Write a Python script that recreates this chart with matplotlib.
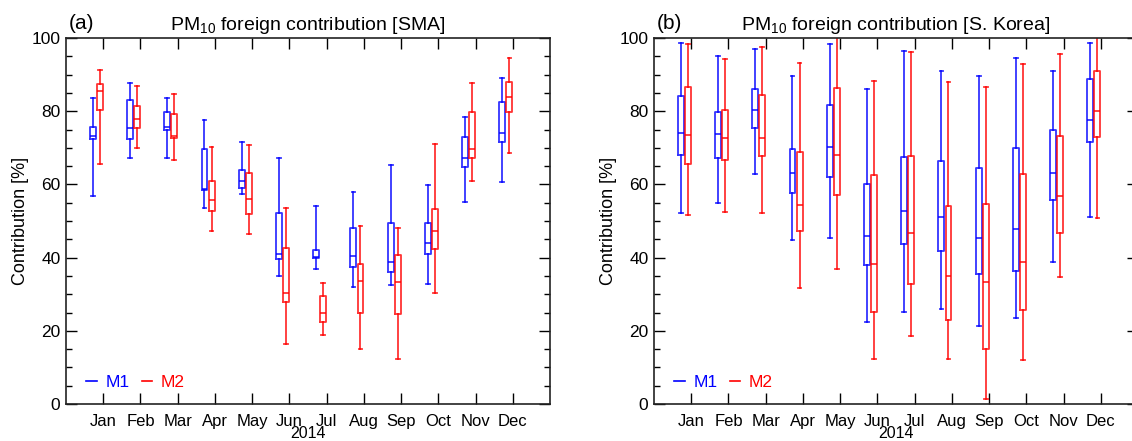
import matplotlib
matplotlib.use('Agg')
import matplotlib.pyplot as plt
from matplotlib.lines import Line2D

plt.rcParams['font.family'] = ['Liberation Sans', 'DejaVu Sans']
plt.rcParams['mathtext.default'] = 'regular'

meses = ['Jan', 'Feb', 'Mar', 'Apr', 'May', 'Jun', 'Jul', 'Aug', 'Sep', 'Oct', 'Nov', 'Dec']

# (a) SMA : whisker low, q1, median, q3, whisker high
sma_m1_lo  = [56.8, 67.3, 67.2, 53.5, 57.3, 35.1, 36.9, 32.1, 32.4, 32.8, 55.3, 60.7]
sma_m1_q1  = [72.3, 72.3, 75.0, 58.5, 58.9, 39.5, 39.9, 37.3, 36.2, 41.0, 64.8, 71.5]
sma_m1_med = [73.2, 75.3, 75.8, 58.8, 60.9, 41.0, 40.3, 40.5, 38.7, 43.9, 67.2, 74.0]
sma_m1_q3  = [75.8, 83.1, 79.9, 69.6, 63.9, 52.1, 42.1, 48.0, 49.5, 49.5, 73.0, 82.5]
sma_m1_hi  = [83.7, 87.6, 83.7, 77.7, 71.5, 67.3, 54.1, 57.8, 65.3, 59.7, 78.3, 89.2]

sma_m2_lo  = [65.6, 69.9, 66.6, 47.3, 46.4, 16.3, 18.9, 14.9, 12.4, 30.2, 60.8, 68.7]
sma_m2_q1  = [80.3, 75.5, 72.7, 52.8, 51.8, 27.8, 22.3, 25.0, 24.6, 42.3, 67.2, 79.8]
sma_m2_med = [85.6, 77.8, 73.3, 55.7, 55.9, 30.2, 24.8, 33.5, 33.3, 47.3, 69.7, 83.8]
sma_m2_q3  = [87.4, 81.3, 79.1, 61.0, 63.2, 42.7, 29.4, 38.2, 40.6, 53.3, 79.7, 87.9]
sma_m2_hi  = [91.3, 86.9, 84.6, 70.3, 70.8, 53.6, 33.1, 48.7, 48.2, 71.1, 87.8, 94.4]

# (b) S. Korea
kor_m1_lo  = [52.1, 54.8, 62.8, 44.8, 45.4, 22.3, 25.2, 25.9, 21.2, 23.4, 38.8, 51.2]
kor_m1_q1  = [67.9, 67.3, 75.5, 57.6, 62.0, 38.0, 43.8, 41.7, 35.6, 36.3, 55.7, 71.5]
kor_m1_med = [74.1, 73.7, 80.4, 63.0, 70.2, 45.9, 52.7, 51.1, 45.4, 47.7, 63.2, 77.6]
kor_m1_q3  = [84.2, 79.7, 86.0, 69.8, 81.6, 60.1, 67.5, 66.3, 64.4, 69.9, 75.0, 88.9]
kor_m1_hi  = [98.7, 95.2, 97.0, 89.6, 98.4, 86.0, 96.4, 91.1, 89.5, 94.4, 90.9, 98.7]

kor_m2_lo  = [51.6, 52.4, 52.1, 31.6, 36.9, 12.3, 18.5, 12.3, 1.3, 11.9, 34.6, 50.8]
kor_m2_q1  = [65.5, 66.8, 67.7, 47.4, 57.0, 25.1, 32.9, 23.0, 14.9, 25.7, 46.6, 72.9]
kor_m2_med = [73.4, 72.8, 72.8, 54.5, 67.9, 38.2, 46.6, 35.0, 33.3, 38.9, 56.9, 80.1]
kor_m2_q3  = [86.5, 80.4, 84.4, 68.9, 86.3, 62.7, 67.7, 54.1, 54.7, 62.8, 73.1, 91.1]
kor_m2_hi  = [98.4, 94.3, 97.6, 93.3, 100.5, 88.3, 96.3, 88.0, 86.5, 93.0, 95.7, 100.5]


def arma_stats(lo, q1, med, q3, hi):
    '''Arma la lista de diccionarios que pide bxp.'''
    return [dict(whislo=a, q1=b, med=c, q3=d, whishi=e, fliers=[])
            for a, b, c, d, e in zip(lo, q1, med, q3, hi)]


def dibuja_cajas(ax, stats, posiciones, color):
    estilo = dict(color=color, linewidth=1.3, alpha=0.8)
    ax.bxp(stats, positions=posiciones, widths=0.16, capwidths=0.1,
           showfliers=False, manage_ticks=False,
           boxprops=estilo, whiskerprops=estilo, capprops=estilo,
           medianprops=estilo)


def panel(ax, st1, st2, letra, region):
    x = list(range(1, 13))
    dibuja_cajas(ax, st1, [m - 0.28 for m in x], 'blue')
    dibuja_cajas(ax, st2, [m - 0.09 for m in x], 'red')
    ax.set_xlim(0, 13)
    ax.set_ylim(0, 100)
    ax.set_xticks(x)
    ax.set_xticklabels(meses)
    ax.set_yticks(range(0, 101, 20))
    ax.set_yticks(range(0, 101, 5), minor=True)
    ax.tick_params(axis='both', which='major', direction='in', length=8,
                   top=True, right=True, labelsize=12.5, width=1)
    ax.tick_params(axis='y', which='minor', direction='in', length=4,
                   right=True, width=1)
    ax.tick_params(axis='x', pad=7, labelsize=12)
    ax.tick_params(axis='y', pad=4)
    ax.set_xlabel('2014', fontsize=11.5, labelpad=-2)
    ax.set_ylabel('Contribution [%]', fontsize=13, labelpad=2)
    ax.set_title('PM$_{10}$ foreign contribution [' + region + ']',
                 fontsize=14, pad=6)
    ax.text(0.005, 1.015, letra, transform=ax.transAxes, fontsize=15,
            ha='left', va='bottom')
    for s in ax.spines.values():
        s.set_linewidth(1.2)
        s.set_color('#222222')
    manijas = [Line2D([], [], color='blue', lw=1.2),
               Line2D([], [], color='red', lw=1.2)]
    ax.legend(manijas, ['M1', 'M2'], loc='lower left',
              bbox_to_anchor=(0.01, -0.005), ncol=2, frameon=False,
              handlelength=0.6, handletextpad=0.5, columnspacing=0.7,
              labelcolor='linecolor', fontsize=12.5)


def main():
    fig = plt.figure(figsize=(11.32, 4.41), dpi=100)
    ax1 = fig.add_axes([66 / 1132, 37 / 441, 484 / 1132, 366 / 441])
    ax2 = fig.add_axes([654 / 1132, 37 / 441, 484 / 1132, 366 / 441])
    panel(ax1, arma_stats(sma_m1_lo, sma_m1_q1, sma_m1_med, sma_m1_q3, sma_m1_hi),
          arma_stats(sma_m2_lo, sma_m2_q1, sma_m2_med, sma_m2_q3, sma_m2_hi),
          '(a)', 'SMA')
    panel(ax2, arma_stats(kor_m1_lo, kor_m1_q1, kor_m1_med, kor_m1_q3, kor_m1_hi),
          arma_stats(kor_m2_lo, kor_m2_q1, kor_m2_med, kor_m2_q3, kor_m2_hi),
          '(b)', 'S. Korea')
    fig.savefig('out.png', dpi=100)


if __name__ == "__main__":
    main()
